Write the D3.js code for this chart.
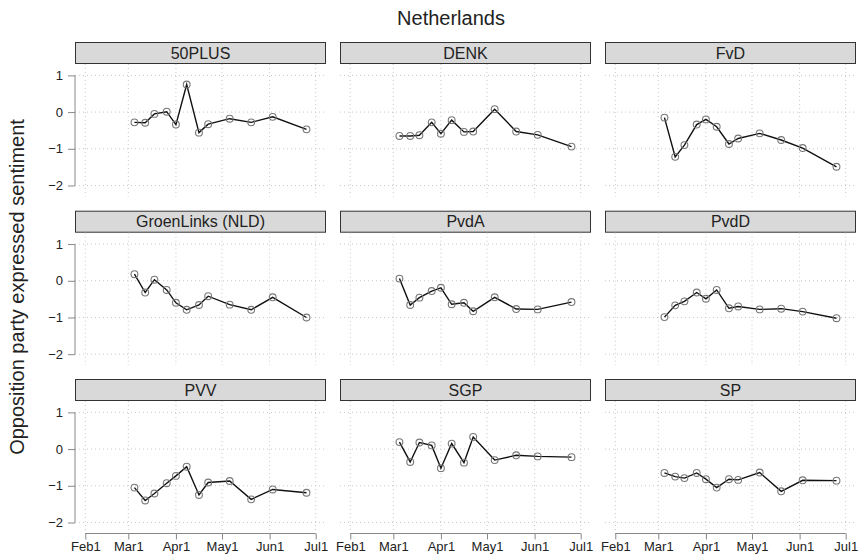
<!DOCTYPE html>
<html><head><meta charset="utf-8">
<script src="https://cdn.jsdelivr.net/npm/d3@7"></script>
<style>body{margin:0;background:#fff}svg{display:block}text{font-family:"Liberation Sans",Arial,sans-serif}</style>
</head><body><svg id="c" width="859" height="555"></svg>
<script>
const parties = ["50PLUS","DENK","FvD","GroenLinks (NLD)","PvdA","PvdD","PVV","SGP","SP"];
const dates = ["2019-03-05","2019-03-12","2019-03-18","2019-03-26","2019-04-01","2019-04-08","2019-04-16","2019-04-22","2019-05-06","2019-05-20","2019-06-03","2019-06-25"];
const v50PLUS = [-0.28,-0.29,-0.05,0.01,-0.34,0.75,-0.56,-0.33,-0.18,-0.28,-0.13,-0.47];
const vDENK = [-0.65,-0.65,-0.63,-0.28,-0.59,-0.22,-0.54,-0.53,0.08,-0.53,-0.62,-0.94];
const vFvD = [-0.15,-1.22,-0.9,-0.34,-0.2,-0.4,-0.87,-0.72,-0.58,-0.76,-0.98,-1.49];
const vGroenLinks = [0.18,-0.32,0.03,-0.25,-0.6,-0.79,-0.66,-0.42,-0.65,-0.79,-0.45,-1.0];
const vPvdA = [0.06,-0.66,-0.46,-0.28,-0.19,-0.64,-0.6,-0.83,-0.45,-0.77,-0.78,-0.58];
const vPvdD = [-0.99,-0.67,-0.56,-0.32,-0.49,-0.25,-0.75,-0.7,-0.78,-0.76,-0.84,-1.02];
const vPVV = [-1.05,-1.4,-1.21,-0.93,-0.73,-0.48,-1.25,-0.91,-0.87,-1.37,-1.1,-1.19];
const vSGP = [0.19,-0.35,0.18,0.1,-0.52,0.15,-0.37,0.33,-0.3,-0.17,-0.2,-0.22];
const vSP = [-0.65,-0.75,-0.79,-0.65,-0.82,-1.05,-0.82,-0.84,-0.64,-1.15,-0.85,-0.86];
const seriesValues = [v50PLUS,vDENK,vFvD,vGroenLinks,vPvdA,vPvdD,vPVV,vSGP,vSP];
const xTickDates = ["2019-02-01","2019-03-01","2019-04-01","2019-05-01","2019-06-01","2019-07-01"];
const xTickLabels = ["Feb1","Mar1","Apr1","May1","Jun1","Jul1"];
const yTicks = [1,0,-1,-2];
const title = "Netherlands";
const yLabel = "Opposition party expressed sentiment";

const parse = s => { const [y,m,d] = s.split("-").map(Number); return new Date(Date.UTC(y,m-1,d)); };
const svg = d3.select("#c");
const colLeft = [75,340,605], panelW = 251;
const rowTop = [42,210.7,379], stripH = 22, plotH = 132.5;
const pad = 6.7*864e5;
const t0 = parse(xTickDates[0]), t1 = parse(xTickDates[xTickDates.length-1]);
const x = d3.scaleUtc().domain([new Date(+t0-pad), new Date(+t1+pad)]).range([0,panelW]);
const y = d3.scaleLinear().domain([-2.3,1.31]).range([plotH,0]);

svg.append("text").attr("x",451).attr("y",25).attr("text-anchor","middle")
  .attr("font-size",20).attr("fill","#222").text(title);
svg.append("text").attr("transform","translate(24,287) rotate(-90)").attr("text-anchor","middle")
  .attr("font-size",20).attr("fill","#222").text(yLabel);

parties.forEach((p,i)=>{
  const r = Math.floor(i/3), c = i%3;
  const g = svg.append("g").attr("transform",`translate(${colLeft[c]},${rowTop[r]})`);
  g.append("rect").attr("x",0.5).attr("y",0.5).attr("width",panelW-1).attr("height",stripH-1)
    .attr("fill","#d9d9d9").attr("stroke","#333").attr("stroke-width",1);
  g.append("text").attr("x",panelW/2).attr("y",stripH/2+5.8).attr("text-anchor","middle")
    .attr("font-size",16).attr("fill","#222").text(p);
  const pg = g.append("g").attr("transform",`translate(0,${stripH})`);
  pg.selectAll(".vg").data(xTickDates.map(parse)).join("line")
    .attr("x1",d=>x(d)).attr("x2",d=>x(d)).attr("y1",0).attr("y2",plotH)
    .attr("stroke","#c8c8c8").attr("stroke-width",1).attr("stroke-dasharray","1,3");
  pg.selectAll(".hg").data(yTicks).join("line")
    .attr("x1",0).attr("x2",panelW).attr("y1",d=>y(d)).attr("y2",d=>y(d))
    .attr("stroke","#c8c8c8").attr("stroke-width",1).attr("stroke-dasharray","1,3");
  if (c===0){
    const ya = pg.append("g").call(d3.axisLeft(y).tickValues(yTicks).tickSize(7).tickPadding(5)
      .tickFormat(d=>d<0?"\u2212"+Math.abs(d):d));
    ya.select(".domain").attr("d",`M0,${y(1)}V${y(-2)}`).attr("stroke","#888");
    ya.selectAll(".tick line").attr("stroke","#888");
    ya.selectAll(".tick text").attr("font-size",13).attr("fill","#222").attr("font-family",null);
  }
  if (r===2){
    const xa = pg.append("g").attr("transform",`translate(0,${plotH})`)
      .call(d3.axisBottom(x).tickValues(xTickDates.map(parse)).tickSize(6).tickPadding(2.5)
        .tickFormat((d,j)=>xTickLabels[j]));
    xa.select(".domain").attr("d",`M${x(t0)},0H${x(t1)}`).attr("stroke","#888");
    xa.selectAll(".tick line").attr("stroke","#888");
    xa.selectAll(".tick text").attr("font-size",13).attr("fill","#222").attr("font-family",null);
  }
  const data = dates.map((d,k)=>({d:parse(d),v:seriesValues[i][k]}));
  pg.append("path").datum(data).attr("fill","none").attr("stroke","#111").attr("stroke-width",1.4)
    .attr("d",d3.line().x(d=>x(d.d)).y(d=>y(d.v)));
  pg.selectAll(".pt").data(data).join("circle").attr("cx",d=>x(d.d)).attr("cy",d=>y(d.v)).attr("r",3.4)
    .attr("fill","none").attr("stroke","#777").attr("stroke-width",1.1);
});
</script></body></html>
